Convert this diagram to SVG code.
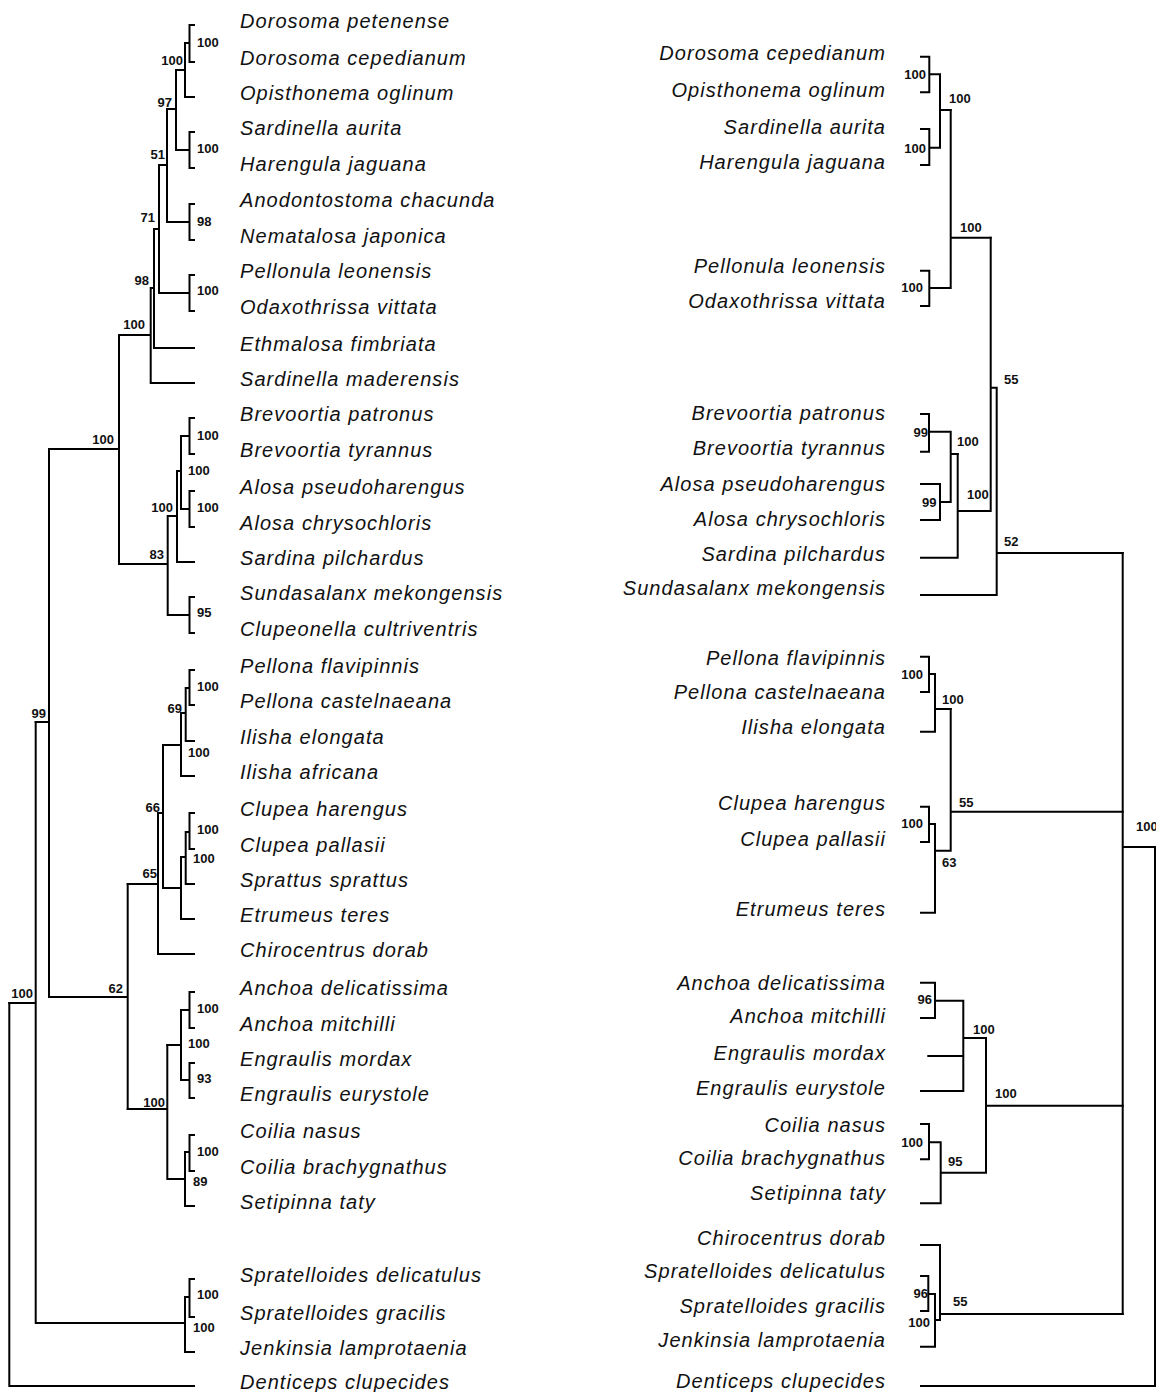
<svg xmlns="http://www.w3.org/2000/svg" width="1156" height="1392" viewBox="0 0 1156 1392">
<style>
.tx{font-family:"Liberation Sans",Arial,sans-serif;font-style:italic;font-size:20px;letter-spacing:1.05px;fill:#111}
.re{text-anchor:end}
.bs{font-family:"Liberation Sans",Arial,sans-serif;font-weight:bold;font-size:13px;fill:#111}
.e{text-anchor:end}
.br{fill:none;stroke:#000;stroke-width:2;stroke-linecap:square;stroke-linejoin:miter}
</style>
<rect width="1156" height="1392" fill="#fff"/>
<g id="connectors" class="br">
<path d="M194,25H189.5V62H194M185,43H189.5M185,97H194M185,43V97M176,70H185"/>
<path d="M194,132H189.5V168H194M176,150H189.5M176,70V150M167,109H176"/>
<path d="M194,204H189.5V240H194M167,222H189.5M167,109V222M159,165H167"/>
<path d="M194,275H189.5V311H194M159,293H189.5M159,165V293M154,229H159"/>
<path d="M154,348H194M154,229V348M150.7,288H154M150.7,383H194M150.7,288V383M119,335H150.7"/>
<path d="M194,418H189.5V454H194M181,436H189.5M194,491H189.5V527H194M181,509H189.5M181,436V509M177,471H181"/>
<path d="M177,562H194M177,471V562M167.7,516H177M194,597H189.5V633H194M167.7,615H189.5M167.7,516V615M119,564H167.7"/>
<path d="M119,335V564M49,449H119"/>
<path d="M194,670H189.5V705H194M185.7,688H189.5M185.7,741H194M185.7,688V741M181,713H185.7M181,776H194M181,713V776M163,745H181"/>
<path d="M194,813H189.5V849H194M185.7,832H189.5M185.7,884H194M185.7,832V884M181,857H185.7M181,919H194M181,857V919M163,888H181"/>
<path d="M163,745V888M158,813H163M158,954H194M158,813V954M127.7,884H158"/>
<path d="M194,992H189.5V1028H194M181,1010H189.5M194,1063H189.5V1098H194M181,1080H189.5M181,1010V1080M167.3,1045H181"/>
<path d="M194,1135H189.5V1171H194M185,1152H189.5M185,1206H194M185,1152V1206M167.3,1179H185M167.3,1045V1179M127.7,1109H167.3"/>
<path d="M127.7,884V1109M49,997H127.7M49,449V997M35.7,722H49"/>
<path d="M194,1279H189.5V1317H194M185,1297H189.5M185,1352H194M185,1297V1352M35.7,1323H185M35.7,722V1323M9.3,1003H35.7"/>
<path d="M9.3,1386H194M9.3,1003V1386"/>
<path d="M921,56.7H929.3V92.3H921M929.3,74.3H940M921,129H929.3V165H921M929.3,147.7H940M940,74.3V147.7M940,110H950.7"/>
<path d="M921,270.7H929.3V306H921M929.3,288H950.7M950.7,110V288M950.7,237.7H990.7"/>
<path d="M921,414H929V451.7H921M929,431.7H950.7M921,484H940V520H921M940,502H950.7M950.7,431.7V502M950.7,454H957.7"/>
<path d="M921,557.7H957.7M957.7,454V557.7M957.7,511H990.7M990.7,237.7V511M990.7,387.7H996.7M921,595H996.7M996.7,387.7V595M996.7,553H1122.7"/>
<path d="M921,656.7H929V692H921M929,674H935M921,731.7H935M935,674V731.7M935,709H950.7"/>
<path d="M921,806.7H929V842H921M929,824H935M921,912.7H935M935,824V912.7M935,850.7H950.7M950.7,709V850.7M950.7,811.7H1122.7"/>
<path d="M921,982.7H935V1018H921M935,1000.7H963.3M928.3,1056H963.3M921,1091H963.3M963.3,1000.7V1091M963.3,1038H986"/>
<path d="M921,1124H929V1159.3H921M929,1142.3H940.7M921,1203.3H940.7M940.7,1142.3V1203.3M940.7,1172.7H986M986,1038V1172.7M986,1105.7H1122.7"/>
<path d="M921,1245H940M921,1276H928.3V1311H921M928.3,1294H935M921,1346.7H935M935,1294V1346.7M935,1320H940M940,1245V1320M940,1314H1122.7"/>
<path d="M1122.7,553V1314M1122.7,847H1155M921,1386H1155M1155,847V1386"/>
</g>
<g id="left-taxa" class="tx">
<g id="l01"><text x="240" y="27.5">Dorosoma petenense</text></g>
<g id="l02"><text x="240" y="64.5">Dorosoma cepedianum</text></g>
<g id="l03"><text x="240" y="99.5">Opisthonema oglinum</text></g>
<g id="l04"><text x="240" y="134.5">Sardinella aurita</text></g>
<g id="l05"><text x="240" y="170.5">Harengula jaguana</text></g>
<g id="l06"><text x="240" y="206.5">Anodontostoma chacunda</text></g>
<g id="l07"><text x="240" y="242.5">Nematalosa japonica</text></g>
<g id="l08"><text x="240" y="277.5">Pellonula leonensis</text></g>
<g id="l09"><text x="240" y="313.5">Odaxothrissa vittata</text></g>
<g id="l10"><text x="240" y="350.5">Ethmalosa fimbriata</text></g>
<g id="l11"><text x="240" y="385.5">Sardinella maderensis</text></g>
<g id="l12"><text x="240" y="420.5">Brevoortia patronus</text></g>
<g id="l13"><text x="240" y="456.5">Brevoortia tyrannus</text></g>
<g id="l14"><text x="240" y="493.5">Alosa pseudoharengus</text></g>
<g id="l15"><text x="240" y="529.5">Alosa chrysochloris</text></g>
<g id="l16"><text x="240" y="564.5">Sardina pilchardus</text></g>
<g id="l17"><text x="240" y="599.5">Sundasalanx mekongensis</text></g>
<g id="l18"><text x="240" y="635.5">Clupeonella cultriventris</text></g>
<g id="l19"><text x="240" y="672.5">Pellona flavipinnis</text></g>
<g id="l20"><text x="240" y="707.5">Pellona castelnaeana</text></g>
<g id="l21"><text x="240" y="743.5">Ilisha elongata</text></g>
<g id="l22"><text x="240" y="778.5">Ilisha africana</text></g>
<g id="l23"><text x="240" y="815.5">Clupea harengus</text></g>
<g id="l24"><text x="240" y="851.5">Clupea pallasii</text></g>
<g id="l25"><text x="240" y="886.5">Sprattus sprattus</text></g>
<g id="l26"><text x="240" y="921.5">Etrumeus teres</text></g>
<g id="l27"><text x="240" y="956.5">Chirocentrus dorab</text></g>
<g id="l28"><text x="240" y="994.5">Anchoa delicatissima</text></g>
<g id="l29"><text x="240" y="1030.5">Anchoa mitchilli</text></g>
<g id="l30"><text x="240" y="1065.5">Engraulis mordax</text></g>
<g id="l31"><text x="240" y="1100.5">Engraulis eurystole</text></g>
<g id="l32"><text x="240" y="1137.5">Coilia nasus</text></g>
<g id="l33"><text x="240" y="1173.5">Coilia brachygnathus</text></g>
<g id="l34"><text x="240" y="1208.5">Setipinna taty</text></g>
<g id="l35"><text x="240" y="1281.5">Spratelloides delicatulus</text></g>
<g id="l36"><text x="240" y="1319.5">Spratelloides gracilis</text></g>
<g id="l37"><text x="240" y="1354.5">Jenkinsia lamprotaenia</text></g>
<g id="l38"><text x="240" y="1388.5">Denticeps clupecides</text></g>
</g>
<g id="right-taxa" class="tx re">
<g id="r01"><text x="886" y="60">Dorosoma cepedianum</text></g>
<g id="r02"><text x="886" y="97">Opisthonema oglinum</text></g>
<g id="r03"><text x="886" y="134">Sardinella aurita</text></g>
<g id="r04"><text x="886" y="169">Harengula jaguana</text></g>
<g id="r05"><text x="886" y="273">Pellonula leonensis</text></g>
<g id="r06"><text x="886" y="308">Odaxothrissa vittata</text></g>
<g id="r07"><text x="886" y="420">Brevoortia patronus</text></g>
<g id="r08"><text x="886" y="455">Brevoortia tyrannus</text></g>
<g id="r09"><text x="886" y="491">Alosa pseudoharengus</text></g>
<g id="r10"><text x="886" y="526">Alosa chrysochloris</text></g>
<g id="r11"><text x="886" y="561">Sardina pilchardus</text></g>
<g id="r12"><text x="886" y="595">Sundasalanx mekongensis</text></g>
<g id="r13"><text x="886" y="665">Pellona flavipinnis</text></g>
<g id="r14"><text x="886" y="699">Pellona castelnaeana</text></g>
<g id="r15"><text x="886" y="734">Ilisha elongata</text></g>
<g id="r16"><text x="886" y="810">Clupea harengus</text></g>
<g id="r17"><text x="886" y="846">Clupea pallasii</text></g>
<g id="r18"><text x="886" y="916">Etrumeus teres</text></g>
<g id="r19"><text x="886" y="990">Anchoa delicatissima</text></g>
<g id="r20"><text x="886" y="1023">Anchoa mitchilli</text></g>
<g id="r21"><text x="886" y="1060">Engraulis mordax</text></g>
<g id="r22"><text x="886" y="1095">Engraulis eurystole</text></g>
<g id="r23"><text x="886" y="1132">Coilia nasus</text></g>
<g id="r24"><text x="886" y="1165">Coilia brachygnathus</text></g>
<g id="r25"><text x="886" y="1200">Setipinna taty</text></g>
<g id="r26"><text x="886" y="1245">Chirocentrus dorab</text></g>
<g id="r27"><text x="886" y="1278">Spratelloides delicatulus</text></g>
<g id="r28"><text x="886" y="1313">Spratelloides gracilis</text></g>
<g id="r29"><text x="886" y="1347">Jenkinsia lamprotaenia</text></g>
<g id="r30"><text x="886" y="1388">Denticeps clupecides</text></g>
</g>
<g id="left-support" class="bs">
<g id="ls01"><text x="197" y="47">100</text></g>
<g id="ls02"><text class="e" x="183" y="65">100</text></g>
<g id="ls03"><text x="197" y="153">100</text></g>
<g id="ls04"><text class="e" x="172" y="107">97</text></g>
<g id="ls05"><text class="e" x="165" y="159">51</text></g>
<g id="ls06"><text x="197" y="226">98</text></g>
<g id="ls07"><text class="e" x="155" y="222">71</text></g>
<g id="ls08"><text x="197" y="295">100</text></g>
<g id="ls09"><text class="e" x="149" y="285">98</text></g>
<g id="ls10"><text class="e" x="145" y="329">100</text></g>
<g id="ls11"><text class="e" x="114" y="444">100</text></g>
<g id="ls12"><text x="197" y="440">100</text></g>
<g id="ls13"><text x="188" y="475">100</text></g>
<g id="ls14"><text x="197" y="512">100</text></g>
<g id="ls15"><text class="e" x="173" y="512">100</text></g>
<g id="ls16"><text class="e" x="164" y="559">83</text></g>
<g id="ls17"><text x="197" y="617">95</text></g>
<g id="ls18"><text class="e" x="46" y="718">99</text></g>
<g id="ls19"><text x="197" y="691">100</text></g>
<g id="ls20"><text class="e" x="182" y="713">69</text></g>
<g id="ls21"><text x="188" y="757">100</text></g>
<g id="ls22"><text class="e" x="160" y="812">66</text></g>
<g id="ls23"><text x="197" y="834">100</text></g>
<g id="ls24"><text x="193" y="863">100</text></g>
<g id="ls25"><text class="e" x="157" y="878">65</text></g>
<g id="ls26"><text class="e" x="123" y="993">62</text></g>
<g id="ls27"><text class="e" x="33" y="998">100</text></g>
<g id="ls28"><text x="197" y="1013">100</text></g>
<g id="ls29"><text x="188" y="1048">100</text></g>
<g id="ls30"><text x="197" y="1083">93</text></g>
<g id="ls31"><text class="e" x="165" y="1107">100</text></g>
<g id="ls32"><text x="197" y="1156">100</text></g>
<g id="ls33"><text x="193" y="1186">89</text></g>
<g id="ls34"><text x="197" y="1299">100</text></g>
<g id="ls35"><text x="193" y="1332">100</text></g>
</g>
<g id="right-support" class="bs">
<g id="rs01"><text class="e" x="926" y="79">100</text></g>
<g id="rs02"><text class="e" x="926" y="153">100</text></g>
<g id="rs03"><text x="949" y="103">100</text></g>
<g id="rs04"><text class="e" x="923" y="292">100</text></g>
<g id="rs05"><text x="960" y="232">100</text></g>
<g id="rs06"><text x="1004" y="384">55</text></g>
<g id="rs07"><text class="e" x="928" y="437">99</text></g>
<g id="rs08"><text x="957" y="446">100</text></g>
<g id="rs09"><text x="922" y="507">99</text></g>
<g id="rs10"><text x="967" y="499">100</text></g>
<g id="rs11"><text x="1004" y="546">52</text></g>
<g id="rs12"><text class="e" x="923" y="679">100</text></g>
<g id="rs13"><text x="942" y="704">100</text></g>
<g id="rs14"><text x="959" y="807">55</text></g>
<g id="rs15"><text class="e" x="923" y="828">100</text></g>
<g id="rs16"><text x="942" y="867">63</text></g>
<g id="rs17"><text x="1136" y="831">100</text></g>
<g id="rs18"><text class="e" x="932" y="1004">96</text></g>
<g id="rs19"><text x="973" y="1034">100</text></g>
<g id="rs20"><text x="995" y="1098">100</text></g>
<g id="rs21"><text class="e" x="923" y="1147">100</text></g>
<g id="rs22"><text x="948" y="1166">95</text></g>
<g id="rs23"><text class="e" x="928" y="1298">96</text></g>
<g id="rs24"><text class="e" x="930" y="1327">100</text></g>
<g id="rs25"><text x="953" y="1306">55</text></g>
</g>
</svg>
